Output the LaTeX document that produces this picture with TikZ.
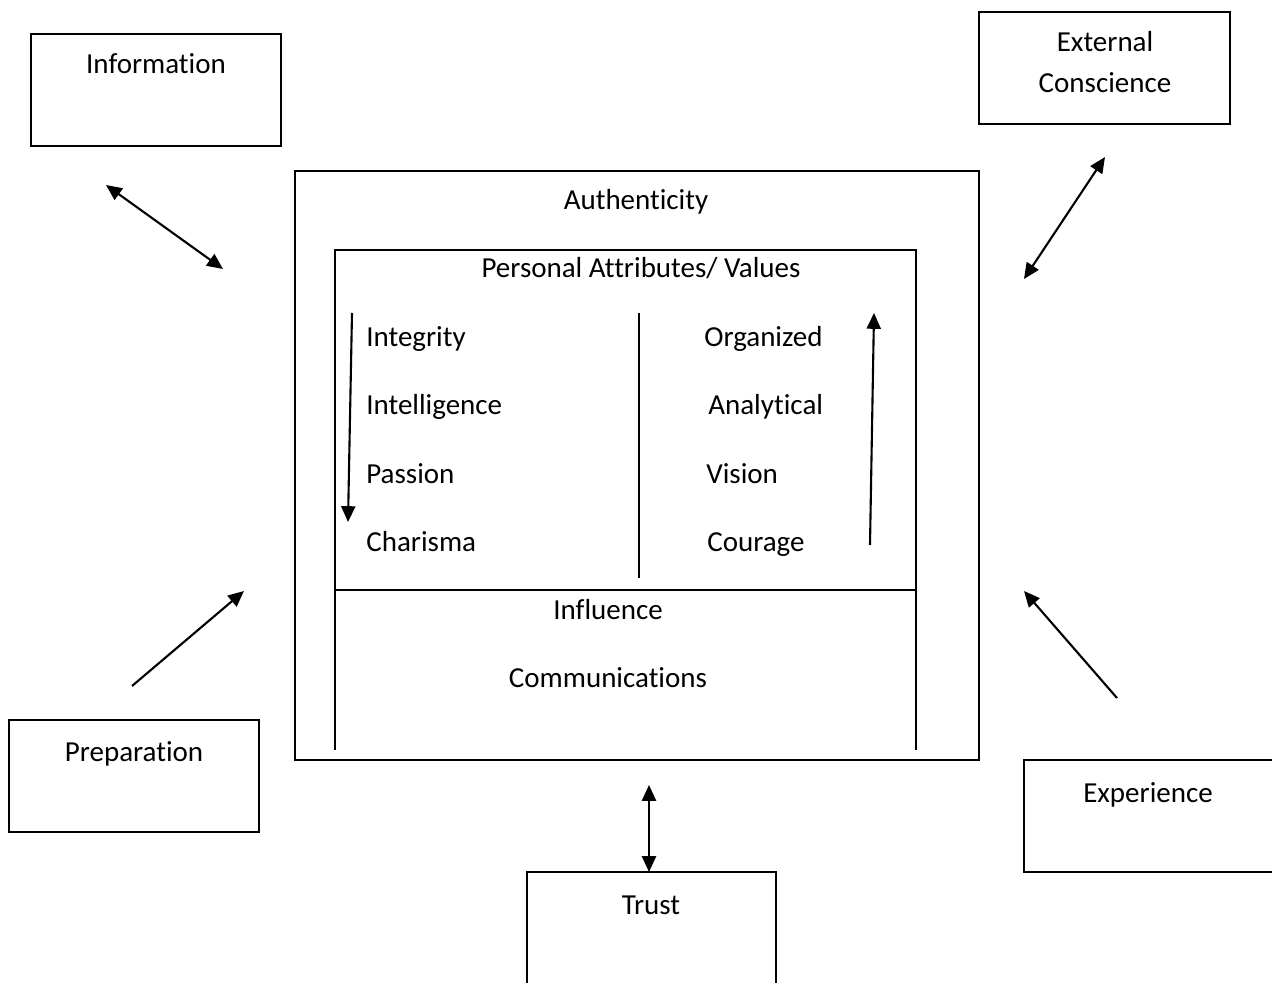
\documentclass[tikz,border=0pt]{standalone}
\usepackage{fontspec}
\setmainfont[Ligatures=NoCommon]{Carlito}
\usepackage{tikz}
\usetikzlibrary{positioning}
\usetikzlibrary{arrows.meta}
\tikzstyle{arrow}=[-{Triangle[length=9pt,width=8pt]},line width=1.2pt]
\tikzstyle{dblarrow}=[{Triangle[length=9pt,width=8pt]}-{Triangle[length=9pt,width=8pt]},line width=1.2pt]
\tikzstyle{frame}=[line width=0.9pt]
\tikzstyle{txt}=[inner sep=0pt,anchor=base,font=\fontsize{16.5}{20}\selectfont]
\tikzstyle{ltxt}=[txt,anchor=base west]

\begin{document}
\begin{tikzpicture}[x=0.02cm,y=-0.02cm]
		\useasboundingbox (0,0) rectangle (1272,983);
		\clip (0,0) rectangle (1272,983);
		% outer boxes
		\draw[frame] (31,34) rectangle (281,146);
		\draw[frame] (979,12) rectangle (1230,124);
		\draw[frame] (9,720) rectangle (259,832);
		\draw[frame] (1290,760)--(1024,760)--(1024,872)--(1290,872);
		\draw[frame] (527,1000)--(527,872)--(776,872)--(776,1000);
		\node[txt] (info)  at (156,74)  {Information};
		\node[txt] (ext)   at (1105,52) {External};
		\node[txt] (consc) at (1105,93) {Conscience};
		\node[txt] (prep)  at (134,761) {Preparation};
		\node[txt] (exper) at (1148,802) {Experience};
		\node[txt] (trust) at (651,914) {Trust};
		% centre
		\draw[frame] (295,171) rectangle (979,760);
		\draw[frame] (335,750)--(335,250)--(916,250)--(916,750);
		\draw[frame] (335,590)--(916,590);
		\draw[semithick] (639,313) coordinate (M1)--(639,578) coordinate (M2);
		\node[txt] (auth) at (636,210) {Authenticity};
		\node[txt] (pav)  at (641,278) {Personal Attributes/ Values};
		\foreach \y/\l/\r/\rx in {347/Integrity/Organized/704,415/Intelligence/Analytical/708,483/Passion/Vision/706,551/Charisma/Courage/707} {
			\node[ltxt] (L\l) at (366,\y) {\l};
			\node[ltxt] (R\r) at (\rx,\y) {\r};}
		\node[txt] (infl) at (608,619) {Influence};
		\node[txt] (comm) at (608,687) {Communications};
		% arrows
		\coordinate (a1) at (352,313); \coordinate (a2) at (348,522);
		\coordinate (b1) at (870,545); \coordinate (b2) at (874,313);
		\draw[arrow] (a1)--(a2);
		\draw[arrow] (b1)--(b2);
		\coordinate (c1) at (106,185); \coordinate (c2) at (223,269);
		\draw[dblarrow] (c1)--(c2);
		\coordinate (d1) at (1024,279); \coordinate (d2) at (1105,157);
		\draw[dblarrow] (d1)--(d2);
		\coordinate (e1) at (132,686); \coordinate (e2) at (244,591);
		\draw[arrow] (e1)--(e2);
		\coordinate (f1) at (1117,698); \coordinate (f2) at (1024,591);
		\draw[arrow] (f1)--(f2);
		\coordinate (g1) at (649,785); \coordinate (g2) at (649,872);
		\draw[dblarrow] (g1)--(g2);
	\end{tikzpicture}
\end{document}
